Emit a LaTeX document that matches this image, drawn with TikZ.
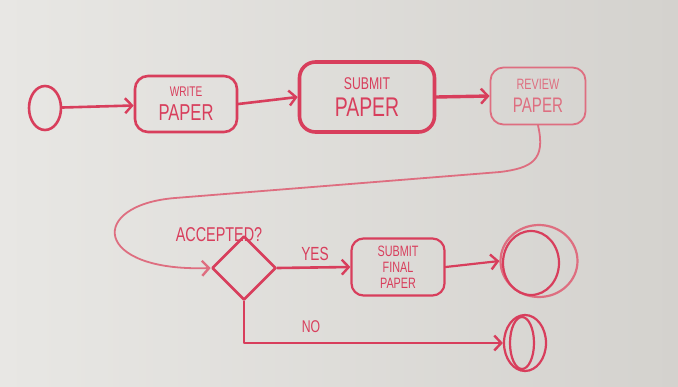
\documentclass[tikz,border=0pt]{standalone}
\usepackage{fontspec}
\setmainfont{Liberation Sans}
\newfontfamily\hand[FakeStretch=0.72]{Liberation Sans}
\usetikzlibrary{shapes.geometric,arrows.meta}

\definecolor{marker}{RGB}{216,62,92}
\definecolor{markerlight}{RGB}{222,110,128}
\definecolor{boardL}{RGB}{232,231,228}
\definecolor{boardR}{RGB}{212,210,206}

\tikzset{
  ink/.style={draw=marker, line width=2.6pt, line cap=round, line join=round},
  box/.style={ink, rounded corners=13pt, align=center, text=marker, inner sep=2pt},
  arr/.style={ink, -{Straight Barb[length=7pt,width=15pt,line width=2.4pt]}},
  lbl/.style={text=marker, inner sep=0pt},
  endring/.style={ellipse, draw=marker, line width=2.2pt, inner sep=0pt},
}
% hand lettering at a given size
\newcommand{\hs}[1]{\hand\fontsize{#1}{#1}\selectfont}

\begin{document}
\begin{tikzpicture}[x=1pt,y=-1pt]
  % whiteboard
  \shade[left color=boardL, right color=boardR] (0,0) rectangle (678,386);
  \useasboundingbox (0,0) rectangle (678,386);

  % initial node
  \node[endring, line width=2.6pt, minimum width=32pt, minimum height=44pt] (start) at (45,108) {};

  % actions
  \node[box, minimum width=102pt, minimum height=56pt] (write) at (186,104)
       {\hs{14}WRITE\\[7pt]\hs{23}PAPER};
  \node[box, line width=3.6pt, minimum width=135pt, minimum height=70pt, rounded corners=16pt] (submit) at (367,97)
       {\hs{17}SUBMIT\\[8pt]\hs{27}PAPER};
  \node[box, draw=markerlight, text=markerlight, line width=1.8pt, minimum width=95pt, minimum height=57pt] (review) at (538,96)
       {\hs{15}REVIEW\\[7pt]\hs{21}PAPER};

  % decision
  \node[diamond, aspect=1, ink, minimum width=64pt, minimum height=64pt, inner sep=0pt] (dec) at (244,268) {};
  \node[lbl, font=\hs{20}] (acc) at (219,235) {ACCEPTED?};

  \node[box, line width=2.2pt, minimum width=93pt, minimum height=57pt, rounded corners=12pt] (final) at (398,267)
       {\hs{15}SUBMIT\\[4pt]\hs{15}FINAL\\[4pt]\hs{15}PAPER};

  % final nodes
  \node[endring, draw=markerlight, minimum width=77pt, minimum height=72pt] (end1) at (539,261) {};
  \draw[draw=marker, line width=2.2pt] (end1.center) ++(-8,2) ellipse (28pt and 32pt);
  \node[endring, minimum width=42pt, minimum height=56pt] (end2) at (525,343) {};
  \draw[draw=marker, line width=2.2pt] (end2.center) ++(-3,0) ellipse (12pt and 26pt);

  % flow
  \draw[arr] (start) -- (write);
  \draw[arr] (write.east) -- (submit.west);
  \draw[arr, line width=3.4pt] (submit.east) -- (review.west);
  \draw[arr, draw=markerlight, line width=1.8pt]
       (review.south) .. controls (546,160) and (532,168) .. (500,172)
       -- (175,198) .. controls (88,205) and (92,272) .. (dec.west);
  \draw[arr] (dec.east) -- (final.west);
  \node[lbl, font=\hs{19}] (yes) at (315,254) {YES};
  \draw[arr, line width=2.2pt] (final.east) -- (end1.west);
  \draw[arr, line width=2.2pt] (dec.south) |- (end2.west);
  \node[lbl, font=\hs{17}] (no) at (311,327) {NO};
\end{tikzpicture}
\end{document}
